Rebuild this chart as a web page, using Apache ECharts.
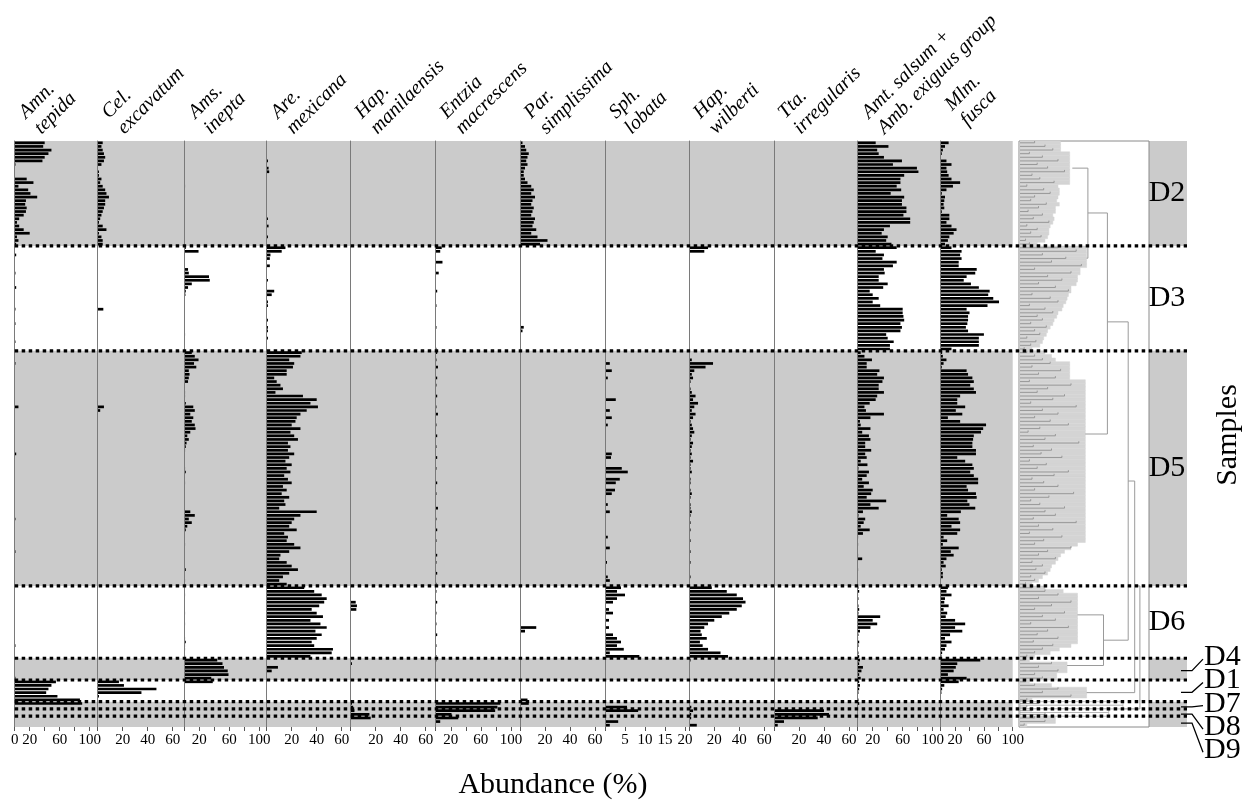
<!DOCTYPE html>
<html><head><meta charset="utf-8">
<script src="https://cdn.jsdelivr.net/npm/echarts@6/dist/echarts.min.js"></script>
<style>html,body{margin:0;padding:0;background:#fff}#c{width:1251px;height:805px}</style>
</head><body><div id="c"></div>
<script>
// ---------------- DATA ----------------
const zoneNames   = ['D2','D3','D5','D6','D4','D1','D7','D8','D9'];
const zoneSizes   = [29, 29, 65, 20, 6, 6, 2, 2, 3];
const zoneShaded  = [1, 0, 1, 0, 1, 0, 1, 1, 1];
const zoneLabelInside = [1, 1, 1, 1, 0, 0, 0, 0, 0];

const speciesLabels = ['Amn.\ntepida','Cel.\nexcavatum','Ams.\ninepta','Are.\nmexicana','Hap.\nmanilaensis',
  'Entzia\nmacrescens','Par.\nsimplissima','Sph.\nlobata','Hap.\nwilberti','Tta.\nirregularis',
  'Amt. salsum +\nAmb. exiguus group','Mlm.\nfusca'];
const axisMax = [110.7, 69.3, 110, 67.2, 68, 112, 68, 21.1, 67.8, 67, 110.7, 100];
const tickLabelValues = [[0,20,60,100],[20,40,60],[20,60,100],[20,40,60],[20,40,60],[20,60,100],
  [20,40,60],[5,10,15,20],[20,40,60],[20,40,60],[20,60,100],[20,60,100]];
const tickMarkValues = [[0,20,40,60,80,100],[0,20,40,60],[0,20,40,60,80,100],[0,20,40,60],[0,20,40,60],
  [0,20,40,60,80,100],[0,20,40,60],[0,5,10,15,20],[0,20,40,60],[0,20,40,60],[0,20,40,60,80,100],[0,20,40,60,80,100]];

// values per zone: D2, D3, D5, D6, D4, D1, D7, D8, D9
const amnTepida = [
  [40,38,49,45,40,37,1,0,0,0,16,25,5,18,21,30,15,14,16,15,12,6,3,6,12,20,3,5,2],
  [0,0,2,0,0,0,0,1,0,0,0,2,0,0,0,0,0,1,0,0,0,1,0,0,0,0,1,0,0],
  [0,0,0,1,0,0,0,0,0,0,0,0,0,0,0,5,0,0,0,0,0,0,0,0,0,0,0,0,2,0,0,0,0,0,0,0,0,0,0,0,0,0,0,0,0,0,1,0,0,0,0,0,0,0,0,1,0,0,0,0,0,0,0,0,0],
  [0,0,0,0,0,0,0,0,0,0,0,0,0,0,0,0,1,0,0,0],
  [0,0,0,0,0,1],[55,49,45,42,57,87],[90,0],[0,0],[0,0,0]].flat();
const celExcavatum = [
  [4,3,4,5,6,5,3,0,1,1,3,2,4,6,7,9,6,6,5,4,3,2,1,4,7,1,3,4,4],
  [0,0,0,0,0,0,0,0,0,0,0,0,0,0,0,0,0,4.5,0,0,0,0,0,0,0,0,0,0,0],
  [0,0,0,0,0,0,0,0,0,0,0,0,0,0,0,5,2,0,0,0,0,0,0,0,0,0,0,0,0,0,0,0,0,0,0,0,0,0,0,0,0,0,0,0,0,0,0,0,0,0,0,0,0,0,0,0,0,0,0,0,0,0,0,0,0],
  [0,0,0,0,0,0,0,0,0,0,0,0,0,0,0,0,0,0,0,0],
  [0,0,0,0,0,0],[17,21,47,35,1,0],[0,0],[0,0],[0,0,0]].flat();
const amsInepta = [
  [0,0,0,0,0,0,0,0,0,0,0,0,1,0,0,0,0,0,0,0,0,0,0,0,0,0,0,0,0],
  [2,19,0,0,0,0,5,6,33,34,10,5,2,1.5,0,0,0,0,0,0,0,0,0,0,1,0,0,0,0],
  [10,14,19,13,16,6,7,6,5,0,0,1,1,0,2,12,14,8,12,10,14,15,8,4,6,3,2,1,0,0,0,0,1,2,0,0,1,0,0,0,0,0,0,0,8,14,6,10,4,2,0,0,0,1,0,0,0,0,0,0,2,0,0,1,0],
  [0,0,1,0,0,0,0,1,0,0,1,0,0,0,1,2,1,1,0,1],
  [44,51,53,58,59,36],[38,0,0,0,0,0],[0,0],[0,0],[0,0,0]].flat();
const areMexicana = [
  [0,0,0,0,0,1,0,1.5,2,0,0,0,0,0,0,0,0,0,0,0,0,1,0,1.5,0,0,1,0,0],
  [15,12,3,2.5,0,2.5,0,0,0,1,0,0,6,4,0,1,1,0,0,0,1,0,1,1,0,1,0,0,0],
  [28,27,18,22,21,16,16,6,8,11,13,7,29,40,35,41,32,27,24,23,20,27,19,22,25,17,19,17,22,18,15,20,16,19,14,17,20,13,16,12,18,14,15,10,40,27,22,20,18,24,14,17,16,22,27,18,11,10,16,20,25,18,13,10,16],
  [30,38,44,48,46,42,36,40,45,35,43,48,39,44,40,36,38,53,52,35],
  [0,0,9,4,0,0],[0,0,0,0,0,0],[0,0],[0,0],[0,0,0]].flat();
const hapManilaensis = [
  [0,0,0,0,0,0,0,0,0,0,0,0,0,0,0,0,0,0,0,0,0,0,0,0,0,0,0,0,0],
  [0,0,0,0,0,0,0,0,0,0,0,0,0,0,0,0,0,0,0,0,0,0,0,0,0,0,0,0,0],
  [0,0,0,0,0,0,0,0,0,0,0,0,0,0,0,0,0,0,0,0,0,0,0,0,0,0,0,0,0,0,0,0,0,0,0,0,0,0,0,0,0,0,0,0,0,0,0,0,0,0,0,0,0,0,0,0,0,0,0,0,0,0,0,0,0],
  [0,0,0,0,4,5,4.5,0,0,0,0,0,0,0,0,0,0,0,0,0],
  [0,1,0,0,0,0],[0,0,0,0,0,0],[1,2],[3,15],[16,0,0]].flat();
const entziaMacrescens = [
  [0,0,0,0,0,0,0,0,0,0,0,0,0,0,0,0,0,0,0,0,0,0,0,0,0,0,0,0,0],
  [8,6,0,0,9,0,0,4,0,0,0,0,2,0,0,0,1,0,0,0,0,0,1,0,0,0,0,0,1],
  [2,0,1,0,3,0,0,2,0,1,0,0,2,0,0,1,0,3,0,0,1,0,0,2,0,0,1,0,0,2,0,0,1,0,0,0,2,0,0,1,0,0,0,3,0,0,1,0,0,2,0,0,1,0,0,0,2,0,1,0,0,2,0,0,1],
  [0,1,0,0,2,0,0,1,0,0,1,0,0,2,0,0,1,0,0,1],
  [1,0,0,0,0,0],[0,0,0,0,0,0],[86,82],[79,21],[30,6,0]].flat();
const parSimplissima = [
  [2,4,5,7,6,5,6,4,3,3,4,6,9,11,9,12,10,9,11,10,9,12,11,10,13,9,14,22,16],
  [0,0,0,0,0,0,0,0,0,0,0,0,0,0,0,0,0,0,0,0,0,0,3,2,0,0,0,0,0],
  [0,0,0,0,0,0,0,0,0,0,0,0,0,0,0,0,0,0,0,0,0,0,0,0,0,0,0,0,0,0,0,0,0,0,0,0,0,0,0,0,0,0,0,0,0,0,0,0,0,0,0,0,0,0,0,0,0,0,0,0,0,0,0,0,0],
  [0,0,0,0,0,0,0,0,0,0,0,13,4,0,0,0,0,0,0,0],
  [0,0,0,0,0,0],[0,0,0,0,0,6],[7,0],[0,0],[0,0,0]].flat();
const sphLobata = [
  [0,0,0,0,0,0,0,0,0,0,0,0,0,0,0,0,0,0,0,0,0,0,0,0,0,0,0,0,0],
  [0,0,0,0,0,0,0,0,0,0,0,0,0,0,0,0,0,0,0,0,0,0,0,0,0,0,0,0,0],
  [0,0,0,1.2,0,1.7,0,0.7,0,0,0,0,0,2.7,0,0,1.2,0,1.7,0,0.7,0,0,0,0,0,0,0,1.7,1.5,0,0,4.2,5.7,0,3.7,2.7,0,2.5,1.7,0,0,0.7,0,1.2,0,0,0,0,0,0,0.7,0,0,1.2,0,0,0,0.5,0,0,0,0.7,1.2,0],
  [4,3,5,3,2,0,1,2,0,1,0,1,0,2,3,4,3,4.7,1.2,8.6],
  [0,0,0,0,0,0],[0,0,0,0,0,0],[0,5.5],[8.3,0],[0,3.3,1.2]].flat();
const hapWilberti = [
  [0,0,0,0,0,0,0,0,0,0,0,0,0,0,0,0,0,0,0,0,0,0,0,0,0,0,0,0,0],
  [15,12,0,0,0,0,0,0,0,0,0,0,0,0,0,0,0,0,0,0,0,0,0,0,0,0,0,0,0],
  [0,0,2,19,13,4,2,3,1,0,1,2,5,3,7,4,2,5,3,1,2,3,4,2,1,3,2,1,2,1,3,1,1,2,0,1,1,0,1,2,1,0,1,1,2,1,0,1,0,1,0,0,1,0,0,1,0,0,1,0,0,0,1,0,0],
  [18,30,38,43,45,42,38,32,26,20,15,12,9,10,14,8.5,10.7,15,25,31],
  [1,0,0,0,0,0],[0,0,0,0,0,0],[0,1.6],[3,1.5],[1.5,0,6]].flat();
const ttaIrregularis = [
  [0,0,0,0,0,0,0,0,0,0,0,0,0,0,0,0,0,0,0,0,0,0,0,0,0,0,0,0,0],
  [0,0,0,0,0,0,0,0,0,0,0,0,0,0,0,0,0,0,0,0,0,0,0,0,0,0,0,0,0],
  [0,0,0,0,0,0,0,0,0,0,0,0,0,0,0,0,0,0,0,0,0,0,0,0,0,0,0,0,0,0,0,0,0,0,0,0,0,0,0,0,0,0,0,0,0,0,0,0,0,0,0,0,0,0,0,0,0,0,0,0,0,0,0,0,0],
  [0,0,0,0,0,0,0,0,0,0,0,0,0,0,0,0,0,0,0,0],
  [0,0,0,0,0,0],[0,0,0,0,0,0],[0,0],[40,44],[35,8,3]].flat();
const amtSalsumAmbExiguus = [
  [24,41,26,28,35,59,47,79,81,62,57,57,52,58,44,62,59,59,65,65,61,70,70,43,35,32,40,38,45],
  [52,24,35,33,52,47,35,36,28,28,40,34,16,20,28,20,30,60,60,61,62,57,59,57,38,40,48,43,43],
  [4,9,19,12,12,29,26,35,33,28,28,35,26,24,16,9,11,35,17,3,4,17,6,15,17,10,10,18,10,12,4,13,1,15,12,6,15,8,20,18,12,38,17,28,7,1,10,8,4,16,7,0.5,0,0.5,0,0,0.5,6,0,0,0.5,0,0,0,0],
  [1,2,0.5,1,0,1,2,1,30,20,26,17,3,1,0.5,2,1,0,1,2],
  [3,2,7,5,2,4],[2,3,2,1,0,1],[2,0],[0,0],[0,0,0]].flat();
const mlmFusca = [
  [11,6,3,1.5,0,8,15,8,9,11,15,27,17,8,1.5,6,5,4,5,1.5,12,12,8,15,22,18,12,10,6],
  [15,29,27,29,25,25,50,48,36,32,42,53,68,66,73,81,65,36,40,38,38,37,35,38,60,53,53,53,15],
  [2,3,8,4,1.5,36,38,44,46,41,46,49,27,23,23,34,21,30,10,27,63,59,56,46,45,44,44,49,49,23,34,44,46,41,46,52,52,36,38,49,50,37,40,48,28,9,25,27,15,27,23,4,9,3,25,14,18,8,4,7,1.5,3,3,0,0],
  [10,8,15,6,5,11,4,9,7,20,34,20,30,13,6,15,8,6,2,1],
  [55,23,21,18,10,36],[25,5,2,1,0,0],[0,0],[0,0],[0,0,0]].flat();

// dendrogram: cluster envelope per sample (distance units) and inter-cluster nodes
const dendroEnvelope = [
  [32,32,32,39,39,39,39,39,39,39,39,39,30,31,31,30,29,31,28,28,26,27,26,24,23,23,22,20,14],
  [52,52,52,52,52,52,47,47,45,45,44,40,40,38,37,36,34,33,30,29,27,26,24,22,21,19,18,16,10],
  [20,25,28,39,39,39,39,39,51,51,51,51,51,51,51,51,51,51,51,51,51,51,51,51,51,51,51,51,51,51,51,51,51,51,51,51,51,51,51,51,51,51,51,51,51,51,51,51,51,51,51,51,51,45,40,35,32,30,28,25,24,22,18,15,10],
  [20,34,45,45,45,45,45,45,45,45,45,45,45,45,45,45,40,31,24,12],
  [8,37,37,37,29,29],[8,25,52,52,52,10],[80,80],[69,69],[28,28,6]].flat();
// inner merge heights of single leaves (distance units), gives the bracket texture
const dendroLeafMerge = [
  [12,20,26,8,18,30,14,22,35,10,16,27,6,19,24,12,9,21,15,7,18,11,23,6,14,9,17,5,8],
  [30,44,18,36,25,48,12,40,22,33,15,28,38,10,24,30,8,20,26,14,18,9,21,12,16,6,13,9,4],
  [6,12,18,24,10,32,15,28,8,40,22,14,35,26,9,44,18,30,12,24,38,16,7,28,20,46,11,25,17,33,8,21,14,38,27,10,19,30,12,42,23,9,16,35,20,28,11,44,15,26,8,33,19,12,40,22,15,28,10,18,13,20,9,12,5],
  [10,20,30,15,40,25,12,35,18,28,9,38,22,14,30,11,26,18,12,6],
  [5,25,15,30,12,18],[5,12,30,18,40,6],[15,6],[10,20],[12,20,4]].flat();
const dendroFilledZone = [1,1,1,1,1,1,0,0,1];
// [node height, top position, bottom position, top child height, bottom child height]
const dendroNodes = [
  [53, 7.5, 32.4, 41, 52],
  [68, 19.9, 81, 53, 51],
  [65, 131, 145, 45, 37],
  [84, 50, 138, 68, 65],
  [89, 94, 152.5, 84, 52],
  [93, 123, 157, 89, 80]
];

// ---------------- LAYOUT ----------------
const panelEdges = [14.7, 97.7, 184.3, 266.7, 350.7, 435.7, 520, 605, 689.3, 774, 857.7, 940.7, 1012.7];
const plotTop = 141, plotHeight = 586;
const serif = '"Liberation Serif", "Times New Roman", serif';

const speciesData = [amnTepida, celExcavatum, amsInepta, areMexicana, hapManilaensis, entziaMacrescens,
  parSimplissima, sphLobata, hapWilberti, ttaIrregularis, amtSalsumAmbExiguus, mlmFusca];
const nSamples = zoneSizes.reduce((a, b) => a + b, 0);
const sampleIds = Array.from({length: nSamples}, (_, i) => String(i + 1));
const zoneStarts = [];
zoneSizes.reduce((acc, s) => { zoneStarts.push(acc); return acc + s; }, 0);
const zoneZoneData = zoneSizes.map((s, i) => [zoneStarts[i], zoneStarts[i] + s, zoneShaded[i], i]);
const sampleZone = [];
zoneSizes.forEach((s, i) => { for (let k = 0; k < s; k++) sampleZone.push(i); });

const grids = [], xAxes = [], yAxes = [], series = [];
speciesData.forEach((vals, i) => {
  grids.push({left: panelEdges[i], width: panelEdges[i + 1] - panelEdges[i], top: plotTop, height: plotHeight,
    containLabel: false, outerBoundsMode: 'none'});
  xAxes.push({type: 'value', gridIndex: i, min: 0, max: axisMax[i], interval: 20,
    axisLine: {show: false}, splitLine: {show: false},
    axisTick: {show: true, length: 4, lineStyle: {color: '#555', width: 1}, customValues: tickMarkValues[i]},
    axisLabel: {show: true, customValues: tickLabelValues[i], fontFamily: serif, fontSize: 15, color: '#000', margin: 6,
      showMinLabel: true, showMaxLabel: true, hideOverlap: false}, z: 5});
  yAxes.push({type: 'category', gridIndex: i, inverse: true, data: sampleIds,
    axisLine: {show: true, onZero: false, lineStyle: {color: '#7a7a7a', width: 1}},
    axisTick: {show: false}, axisLabel: {show: false}, splitLine: {show: false}, z: 5});
  series.push({type: 'bar', xAxisIndex: i, yAxisIndex: i, data: vals, barWidth: 2.7,
    itemStyle: {color: '#000'}, silent: true, z: 3, animation: false});
});

function overlayGrid(left, width, xmax) {
  const gi = grids.length;
  grids.push({left: left, width: width, top: plotTop, height: plotHeight, containLabel: false, outerBoundsMode: 'none'});
  xAxes.push({type: 'value', gridIndex: gi, min: 0, max: xmax, show: false});
  yAxes.push({type: 'value', gridIndex: gi, min: 0, max: nSamples, inverse: true, show: false});
  return gi;
}
function bandRender(params, api) {
  if (!api.value(2)) return;
  const p1 = api.coord([0, api.value(0)]);
  const p2 = api.coord([1, api.value(1)]);
  return {type: 'rect', shape: {x: p1[0], y: p1[1], width: p2[0] - p1[0], height: p2[1] - p1[1]},
    style: {fill: '#cbcbcb'}};
}
// bands behind the panels
const gBand = overlayGrid(panelEdges[0], panelEdges[12] - panelEdges[0], 1);
series.push({type: 'custom', xAxisIndex: gBand, yAxisIndex: gBand, data: zoneZoneData, renderItem: bandRender,
  z: 0, silent: true, animation: false});
// right strip with zone labels
const gStrip = overlayGrid(1149, 38, 1);
series.push({type: 'custom', xAxisIndex: gStrip, yAxisIndex: gStrip, data: zoneZoneData, renderItem: bandRender,
  z: 0, silent: true, animation: false});
series.push({type: 'custom', xAxisIndex: gStrip, yAxisIndex: gStrip, data: zoneZoneData, clip: false,
  silent: true, animation: false, z: 12,
  renderItem: function (params, api) {
    const zi = api.value(3);
    const mid = (api.value(0) + api.value(1)) / 2;
    const c = api.coord([0.5, mid]);
    const right = api.coord([1, mid])[0];
    if (zoneLabelInside[zi]) {
      return {type: 'text', x: c[0] - 1, y: c[1], style: {text: zoneNames[zi], font: '30px ' + serif, fill: '#000',
        align: 'center', verticalAlign: 'middle', textAlign: 'center', textVerticalAlign: 'middle'}};
    }
    const firstOut = zoneLabelInside.indexOf(0);
    const firstMid = (zoneStarts[firstOut] + zoneStarts[firstOut] + zoneSizes[firstOut]) / 2;
    const y0 = api.coord([0, firstMid])[1] - 12;
    const ly = y0 + (zi - firstOut) * 23.3;
    const yc = c[1] + 1.5;
    return {type: 'group', children: [
      {type: 'polyline', shape: {points: [[right - 6, yc], [right + 5, yc], [right + 16, ly + 2]]},
        style: {stroke: '#000', lineWidth: 1.3, fill: null}},
      {type: 'text', x: right + 17, y: ly, style: {text: zoneNames[zi], font: '30px ' + serif, fill: '#000',
        align: 'left', verticalAlign: 'middle', textAlign: 'left', textVerticalAlign: 'middle'}}
    ]};
  }});
// dendrogram
const dendroGi = grids.length;
grids.push({left: 1019, width: 130, top: plotTop, height: plotHeight, show: true, borderColor: '#8a8a8a',
  borderWidth: 1, backgroundColor: '#fff', containLabel: false, outerBoundsMode: 'none', z: 1});
xAxes.push({type: 'value', gridIndex: dendroGi, min: 0, max: 100, show: false});
yAxes.push({type: 'value', gridIndex: dendroGi, min: 0, max: nSamples, inverse: true, show: false});
series.push({type: 'custom', xAxisIndex: dendroGi, yAxisIndex: dendroGi, silent: true, animation: false, z: 4,
  data: dendroEnvelope.map((v, i) => [i, v, dendroLeafMerge[i]]),
  renderItem: function (params, api) {
    const i = api.value(0), v = api.value(1), m = Math.min(api.value(2), v);
    const p1 = api.coord([0, i]), p2 = api.coord([v, i + 1]);
    const mid = api.coord([m, i + 0.5]);
    const filled = dendroFilledZone[sampleZone[i]];
    return {type: 'group', children: [
      {type: 'rect', shape: {x: p1[0] + 1, y: p1[1], width: p2[0] - p1[0] - 1, height: p2[1] - p1[1]},
        style: {fill: filled ? '#d4d4d4' : '#ffffff', stroke: filled ? '#d4d4d4' : '#8e8e8e', lineWidth: 0.5}},
      {type: 'polyline', shape: {points: [[p1[0] + 1, mid[1]], [mid[0], mid[1]], [mid[0], p1[1]]]},
        style: {stroke: '#8a8a8a', lineWidth: 0.8, fill: null}}
    ]};
  }});
series.push({type: 'custom', xAxisIndex: dendroGi, yAxisIndex: dendroGi, silent: true, animation: false, z: 5,
  data: dendroNodes,
  renderItem: function (params, api) {
    const h = api.value(0), s1 = api.value(1), s2 = api.value(2), h1 = api.value(3), h2 = api.value(4);
    return {type: 'polyline', shape: {points: [api.coord([h1, s1]), api.coord([h, s1]), api.coord([h, s2]), api.coord([h2, s2])]},
      style: {stroke: '#9a9a9a', lineWidth: 1, fill: null}};
  }});
// dotted zone boundaries across everything
const gLine = overlayGrid(panelEdges[0], 1187 - panelEdges[0], 1);
series.push({type: 'custom', xAxisIndex: gLine, yAxisIndex: gLine, silent: true, animation: false, z: 10,
  data: zoneStarts.slice(1).map(s => [s]),
  renderItem: function (params, api) {
    const b = api.value(0);
    const p1 = api.coord([0, b]), p2 = api.coord([1, b]);
    return {type: 'line', shape: {x1: p1[0], y1: p1[1], x2: p2[0], y2: p2[1]},
      style: {stroke: '#000', lineWidth: 3.2, lineDash: [3.5, 3.5]}};
  }});

// species headers
const headerBaseY = speciesLabels.map((_, i) => i === 11 ? 111 : 119);
const graphics = speciesLabels.map((t, i) => {
  const bx = panelEdges[i] + 11, by = headerBaseY[i];
  return {type: 'text', x: bx - 11.3, y: by - 11.3, rotation: Math.PI / 4, silent: true,
    style: {text: t, font: 'italic 20px ' + serif, fill: '#000', lineHeight: 22,
      align: 'left', verticalAlign: 'top', textAlign: 'left', textVerticalAlign: 'top'}};
});
graphics.push({type: 'text', x: 553, y: 785, silent: true,
  style: {text: 'Abundance (%)', font: '30px ' + serif, fill: '#000', align: 'center', verticalAlign: 'middle',
    textAlign: 'center', textVerticalAlign: 'middle'}});
graphics.push({type: 'text', x: 1228, y: 435, rotation: Math.PI / 2, silent: true,
  style: {text: 'Samples', font: '30px ' + serif, fill: '#000', align: 'center', verticalAlign: 'middle',
    textAlign: 'center', textVerticalAlign: 'middle'}});

const chart = echarts.init(document.getElementById('c'), null, {renderer: 'canvas'});
chart.setOption({
  animation: false,
  backgroundColor: '#fff',
  grid: grids, xAxis: xAxes, yAxis: yAxes, series: series,
  graphic: graphics
});
</script></body></html>
